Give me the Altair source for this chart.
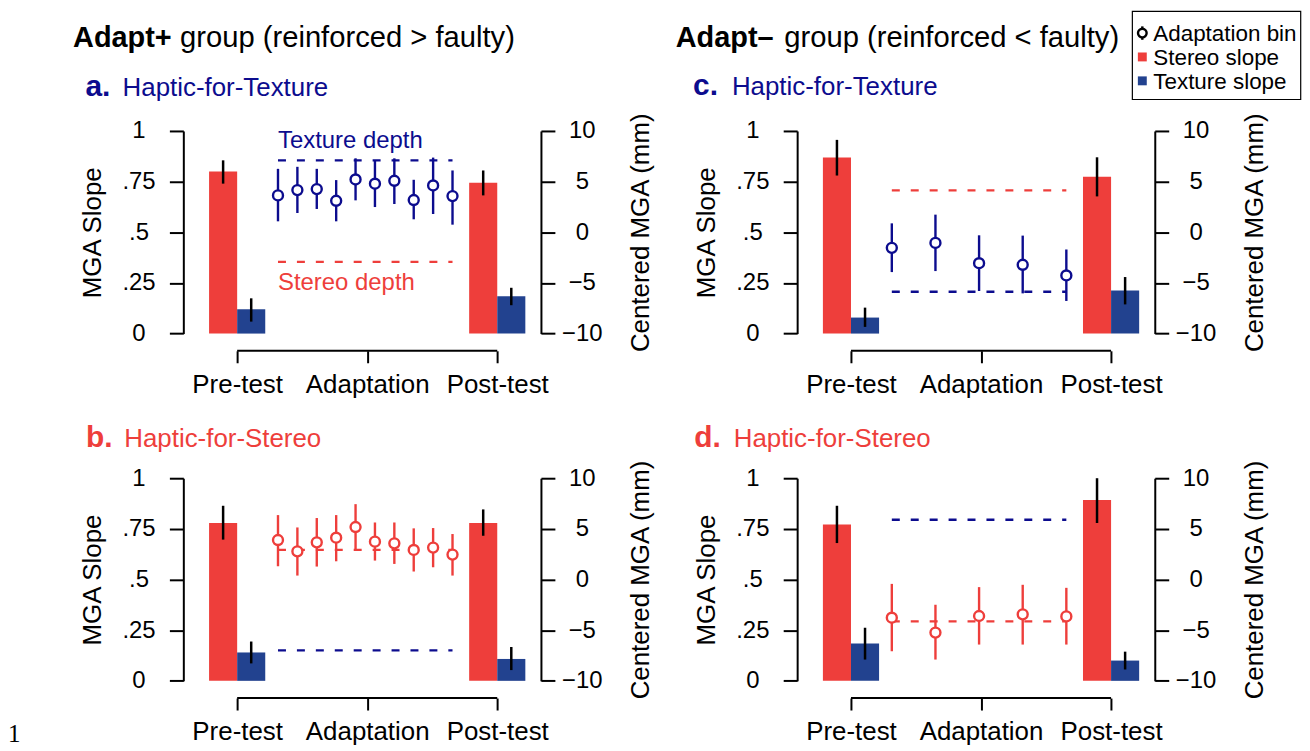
import altair as alt
import pandas as pd
import numpy as np

RED = "#EE3E3B"
BAR_BLUE = "#22428F"
NAVY = "#0C0C8E"
FONT = "Liberation Sans"

PLOT_W, PLOT_H = 359, 203.4
X_DOM = [-0.207, 1.168]
BAR_W = 0.108
BIN_FIRST, BIN_LAST = 0.157, 0.828
AX_OFF = 17.3

# ---------------- data ----------------
bar_phase = ["Pre-test", "Pre-test", "Post-test", "Post-test"]
bar_cue = ["Stereo", "Texture", "Stereo", "Texture"]
ref_cue = ["Texture", "Stereo"]
ref_label = ["Texture depth", "Stereo depth"]

# a. Adapt+ / Haptic-for-Texture
a_bar = [0.800, 0.120, 0.744, 0.184]
a_bar_lo = [0.740, 0.059, 0.682, 0.140]
a_bar_hi = [0.855, 0.174, 0.805, 0.226]
a_bin = [3.64, 4.16, 4.26, 3.11, 5.21, 4.79, 5.08, 3.18, 4.62, 3.57]
a_bin_lo = [1.08, 1.90, 2.30, 1.08, 3.15, 2.49, 2.79, 1.28, 1.80, 0.75]
a_bin_hi = [6.26, 6.46, 6.26, 5.15, 7.30, 7.10, 7.30, 5.18, 7.37, 6.10]
a_ref = [7.10, -2.92]

# b. Adapt+ / Haptic-for-Stereo
b_bar = [0.779, 0.140, 0.779, 0.108]
b_bar_lo = [0.697, 0.086, 0.716, 0.053]
b_bar_hi = [0.864, 0.194, 0.846, 0.167]
b_bin = [3.90, 2.78, 3.67, 4.13, 5.18, 3.74, 3.57, 2.92, 3.15, 2.46]
b_bin_lo = [1.31, 0.39, 1.28, 1.80, 2.92, 1.87, 1.54, 0.79, 1.21, 0.39]
b_bin_hi = [6.36, 5.14, 6.07, 6.36, 7.44, 5.63, 5.63, 5.05, 5.08, 4.49]
b_ref = [-7.00, 2.92]

# c. Adapt- / Haptic-for-Texture
c_bar = [0.869, 0.079, 0.774, 0.213]
c_bar_lo = [0.780, 0.033, 0.677, 0.144]
c_bar_hi = [0.956, 0.128, 0.870, 0.279]
c_bin = [-1.54, -1.05, -3.05, -3.21, -4.26]
c_bin_lo = [-3.93, -3.83, -5.80, -6.03, -6.78]
c_bin_hi = [0.88, 1.74, -0.30, -0.33, -1.70]
c_ref = [-5.87, 4.13]

# d. Adapt- / Haptic-for-Stereo
d_bar = [0.772, 0.184, 0.892, 0.100]
d_bar_lo = [0.680, 0.105, 0.779, 0.056]
d_bar_hi = [0.864, 0.262, 1.000, 0.144]
d_bin = [-3.77, -5.24, -3.60, -3.44, -3.64]
d_bin_lo = [-7.08, -7.90, -6.42, -6.42, -6.42]
d_bin_hi = [-0.43, -2.49, -0.75, -0.52, -0.82]
d_ref = [5.90, -4.13]

legend_labels = ["Adaptation bin", "Stereo slope", "Texture slope"]

# ---------------- helpers ----------------
xs = alt.Scale(domain=X_DOM, nice=False, zero=False)
x_axis = alt.Axis(values=[0, 0.5, 1],
                  labelExpr="datum.value == 0 ? 'Pre-test' : datum.value == 1 ? 'Post-test' : 'Adaptation'",
                  title=None, domain=False, offset=AX_OFF, tickSize=12, tickWidth=2,
                  labelFontSize=26, labelPadding=9, labelFlush=False, labelOverlap=False,
                  grid=False)
ys_left = alt.Scale(domain=[0, 1], nice=False, zero=False)
ys_right = alt.Scale(domain=[-10, 10], nice=False, zero=False)
left_axis = alt.Axis(orient="left", values=[0, 0.25, 0.5, 0.75, 1],
                     labelExpr="datum.value == 0 ? '0' : datum.value == 1 ? '1' : replace(format(datum.value, '.2~f'), '0.', '.')",
                     title="MGA Slope", tickSize=14, tickWidth=2, domainWidth=2,
                     labelAlign="center", labelPadding=31, labelFontSize=24,
                     titleFontSize=26, titleAngle=270, titleX=-91, titleY=PLOT_H / 2,
                     titleAlign="center", titleBaseline="middle",
                     grid=False, labelOverlap=False, labelFlush=False)
right_axis = alt.Axis(orient="right", values=[-10, -5, 0, 5, 10],
                      labelExpr="datum.value < 0 ? '\u2212' + abs(datum.value) : '' + datum.value",
                      title="Centered MGA (mm)", tickSize=14, tickWidth=2, domainWidth=2,
                      labelAlign="center", labelPadding=27, labelFontSize=24,
                      titleFontSize=26, titleAngle=270, titleX=100, titleY=PLOT_H / 2,
                      titleAlign="center", titleBaseline="middle",
                      grid=False, labelOverlap=False, labelFlush=False)


def X(field):
    return alt.X(field, type="quantitative", scale=xs, axis=x_axis)


def txt(s, x, y, size, color="black", weight="normal", font=FONT, baseline="alphabetic"):
    return alt.Chart(pd.DataFrame({"t": [s]})).mark_text(
        align="left", baseline=baseline, font=font, fontSize=size,
        fontWeight=weight, color=color).encode(
        x=alt.value(x), y=alt.value(y), text="t:N")


def panel(bar, blo, bhi, bins, bins_lo, bins_hi, refs, pt_color, texts, annotate=False):
    bdf = pd.DataFrame({"phase": bar_phase, "cue": bar_cue, "slope": bar, "lo": blo, "hi": bhi})
    center = bdf["phase"].map({"Pre-test": 0.0, "Post-test": 1.0})
    bdf["x1"] = center - np.where(bdf["cue"] == "Stereo", BAR_W, 0.0)
    bdf["x2"] = center + np.where(bdf["cue"] == "Texture", BAR_W, 0.0)
    bdf["xm"] = (bdf["x1"] + bdf["x2"]) / 2
    bdf["base"] = 0.0

    n = len(bins)
    pdf = pd.DataFrame({"bin": np.arange(1, n + 1), "mean": bins, "lo": bins_lo, "hi": bins_hi})
    pdf["pos"] = BIN_FIRST + (pdf["bin"] - 1) * (BIN_LAST - BIN_FIRST) / (n - 1)

    rdf = pd.DataFrame({"cue": ref_cue, "label": ref_label, "mm": refs})
    rdf["start"] = BIN_FIRST
    rdf["end"] = BIN_LAST

    brk = pd.DataFrame({"start": [0.0], "end": [1.0]})

    bars = alt.Chart(bdf).mark_bar().encode(
        x=X("x1"), x2="x2",
        y=alt.Y("slope:Q", scale=ys_left, axis=left_axis), y2="base:Q",
        color=alt.Color("cue:N", scale=alt.Scale(domain=["Stereo", "Texture"], range=[RED, BAR_BLUE]), legend=None))
    bar_err = alt.Chart(bdf).mark_rule(color="black", strokeWidth=2.5).encode(
        x=X("xm"), y=alt.Y("lo:Q", scale=ys_left, axis=left_axis), y2="hi:Q")
    bracket = alt.Chart(brk).mark_rule(color="black", strokeWidth=2).encode(
        x=X("start"), x2="end", y=alt.value(PLOT_H + AX_OFF))
    left = alt.layer(bars, bar_err, bracket)

    dash = alt.Chart(rdf).mark_rule(strokeDash=[8, 11], strokeWidth=2.3).encode(
        x=X("start"), x2="end",
        y=alt.Y("mm:Q", scale=ys_right, axis=right_axis),
        stroke=alt.Stroke("cue:N", scale=alt.Scale(domain=["Stereo", "Texture"], range=[RED, NAVY]), legend=None))
    perr = alt.Chart(pdf).mark_rule(color=pt_color, strokeWidth=2.4).encode(
        x=X("pos"), y=alt.Y("lo:Q", scale=ys_right, axis=right_axis), y2="hi:Q")
    pts = alt.Chart(pdf).mark_circle(size=100, fill="white", stroke=pt_color,
                                     strokeWidth=2.4, opacity=1).encode(
        x=X("pos"), y=alt.Y("mean:Q", scale=ys_right, axis=right_axis))
    rlayers = [dash, perr, pts]
    if annotate:
        tex = alt.Chart(rdf[rdf["cue"] == "Texture"]).mark_text(
            align="left", baseline="alphabetic", dy=-12.7, fontSize=24, font=FONT, color=NAVY).encode(
            x=X("start"), y=alt.Y("mm:Q", scale=ys_right, axis=right_axis), text="label:N")
        ste = alt.Chart(rdf[rdf["cue"] == "Stereo"]).mark_text(
            align="left", baseline="alphabetic", dy=28.6, fontSize=24, font=FONT, color=RED).encode(
            x=X("start"), y=alt.Y("mm:Q", scale=ys_right, axis=right_axis), text="label:N")
        rlayers += [tex, ste]
    right = alt.layer(*rlayers)

    return alt.layer(left, right, *texts).resolve_scale(y="independent").properties(
        width=PLOT_W, height=PLOT_H)


# ---------------- panels ----------------
texts_a = [
    txt("Adapt+", -110.7, -84.3, 29, weight="bold"),
    txt("group (reinforced > faulty)", -3.3, -84.3, 29.3),
    txt("a.", -98.3, -35.5, 30, color=NAVY, weight="bold"),
    txt("Haptic-for-Texture", -61, -35.5, 26, color=NAVY),
]
texts_b = [
    txt("b.", -97.7, -31.3, 30, color=RED, weight="bold"),
    txt("Haptic-for-Stereo", -59.3, -31.3, 26, color=RED),
    txt("1", -176, 265, 25, font="Liberation Serif"),
]
texts_c = [
    txt("Adapt\u2013", -121.9, -84.3, 29, weight="bold"),
    txt("group (reinforced < faulty)", -12.9, -84.3, 29.3),
    txt("c.", -104.5, -36, 30, color=NAVY, weight="bold"),
    txt("Haptic-for-Texture", -65.5, -36, 26, color=NAVY),
]
# legend (drawn in panel c's frame)
LX = 346.5
legend_layers = [
    alt.Chart(pd.DataFrame({"k": [0]})).mark_rect(fill="white", stroke="black", strokeWidth=1.2).encode(
        x=alt.value(336.5), x2=alt.value(505.5), y=alt.value(-120), y2=alt.value(-31.6)),
    alt.Chart(pd.DataFrame({"k": [0]})).mark_rule(color="black", strokeWidth=2.4).encode(
        x=alt.value(LX), y=alt.value(-105), y2=alt.value(-91.5)),
    alt.Chart(pd.DataFrame({"k": [0]})).mark_point(shape="circle", size=75, fill="white", filled=False,
                                                   stroke="black", strokeWidth=2.4, opacity=1).encode(
        x=alt.value(LX), y=alt.value(-98.3)),
    alt.Chart(pd.DataFrame({"k": [0]})).mark_square(size=80, color=RED, opacity=1).encode(
        x=alt.value(LX), y=alt.value(-74.3)),
    alt.Chart(pd.DataFrame({"k": [0]})).mark_square(size=80, color=BAR_BLUE, opacity=1).encode(
        x=alt.value(LX), y=alt.value(-50.3)),
    txt(legend_labels[0], 357.5, -90.5, 22.5),
    txt(legend_labels[1], 357.5, -66.5, 22.5),
    txt(legend_labels[2], 357.5, -42.5, 22.5),
]
texts_d = [
    txt("d.", -103.3, -31.5, 30, color=RED, weight="bold"),
    txt("Haptic-for-Stereo", -63.7, -31.5, 26, color=RED),
]

pa = panel(a_bar, a_bar_lo, a_bar_hi, a_bin, a_bin_lo, a_bin_hi, a_ref, NAVY, texts_a, annotate=True)
pb = panel(b_bar, b_bar_lo, b_bar_hi, b_bin, b_bin_lo, b_bin_hi, b_ref, RED, texts_b)
pc = panel(c_bar, c_bar_lo, c_bar_hi, c_bin, c_bin_lo, c_bin_hi, c_ref, NAVY, texts_c + legend_layers)
pdd = panel(d_bar, d_bar_lo, d_bar_hi, d_bin, d_bin_lo, d_bin_hi, d_ref, RED, texts_d)

chart = alt.concat(pa, pc, pb, pdd, columns=2,
                   spacing={"row": 144.6, "column": 257.2}, bounds="flush").properties(
    padding={"left": 0, "top": 1, "right": 0, "bottom": 0}, background="white"
).configure_view(stroke=None).configure_axis(
    labelFont=FONT, titleFont=FONT, labelColor="black", titleColor="black",
    domainColor="black", tickColor="black", titleFontWeight="normal")

chart.save("out.html", embed_options={"renderer": "svg", "actions": False})
